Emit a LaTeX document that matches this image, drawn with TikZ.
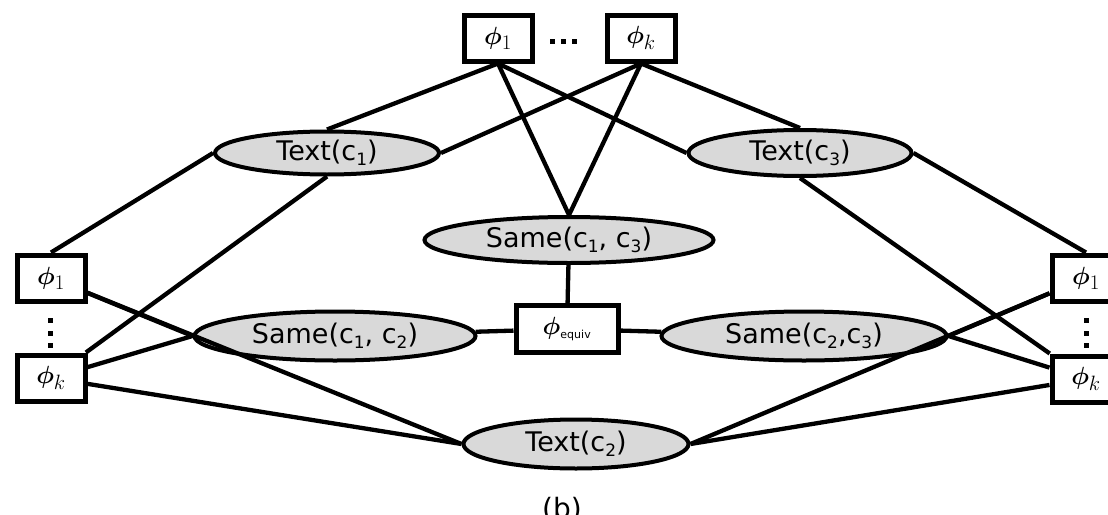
\documentclass[tikz,border=0pt]{standalone}
\usepackage{fontspec}
\setmainfont{DejaVu Sans}
\usepackage{amsmath,bm}
\usetikzlibrary{shapes.geometric}
\definecolor{varfill}{HTML}{D9D9D9}
\newcommand{\dsub}[1]{\raisebox{-0.35ex}{\fontsize{17}{17}\selectfont #1}}
\tikzset{
  var/.style={ellipse, draw, line width=4pt, fill=varfill, inner sep=0pt,
    font=\fontsize{27}{30}\selectfont},
  fac/.style={rectangle, draw, line width=5pt, fill=white, minimum width=68pt,
    minimum height=46pt, inner sep=0pt, font=\fontsize{29}{30}\selectfont},
  dot/.style={rectangle, fill=black, inner sep=0pt, minimum size=5pt},
  edge/.style={line width=4.3pt},
}
\begin{document}
\begin{tikzpicture}[x=1pt,y=-1pt]
\useasboundingbox (0,0) rectangle (1108,514);
% factor boxes
\node[fac] (t1) at (498,38) {$\bm{\phi}_1$};
\node[fac] (tk) at (641,38) {$\bm{\phi}_k$};
\node[dot] (td1) at (552,41) {};
\node[dot] (td2) at (563,41) {};
\node[dot] (td3) at (574,41) {};
\node[fac] (l1) at (51,278) {$\bm{\phi}_1$};
\node[fac] (lk) at (51,378) {$\bm{\phi}_k$};
\node[dot] (ld1) at (50,320) {};
\node[dot] (ld2) at (50,333) {};
\node[dot] (ld3) at (50,345) {};
\node[fac] (r1) at (1086,278) {$\bm{\phi}_1$};
\node[fac] (rk) at (1086,379) {$\bm{\phi}_k$};
\node[dot] (rd1) at (1086,320) {};
\node[dot] (rd2) at (1086,333) {};
\node[dot] (rd3) at (1086,345) {};
\node[fac, minimum width=102pt, minimum height=47pt] (eq) at (567,329) {$\bm{\phi}_{\mbox{\fontsize{11}{11}\selectfont equiv}}$};
% variable ellipses
\node[var, minimum width=224pt, minimum height=43pt] (x1) at (327,153) {Text(c\dsub{1})};
\node[var, minimum width=223pt, minimum height=46pt] (x3) at (800,153) {Text(c\dsub{3})};
\node[var, minimum width=289pt, minimum height=46pt] (s13) at (569,240) {Same(c\dsub{1}, c\dsub{3})};
\node[var, minimum width=281pt, minimum height=49pt] (s12) at (335,336) {Same(c\dsub{1}, c\dsub{2})};
\node[var, minimum width=285pt, minimum height=49pt] (s23) at (804,336) {Same(c\dsub{2},c\dsub{3})};
\node[var, minimum width=225pt, minimum height=49pt] (x2) at (576,444) {Text(c\dsub{2})};
\node[anchor=north, inner sep=0pt, font=\fontsize{28}{30}\selectfont] (cap) at (562,497) {(b)};
% connectors
\draw[edge] (t1.south) -- (x1.north);
\draw[edge] (t1.south) -- (s13.north);
\draw[edge] (t1.south) -- (x3.west);
\draw[edge] (tk.south) -- (x1.east);
\draw[edge] (tk.south) -- (s13.north);
\draw[edge] (tk.south) -- (x3.north);
\draw[edge] (s13) -- (eq);
\draw[edge] (eq) -- (s12);
\draw[edge] (eq) -- (s23);
\draw[edge] (l1.north) -- (x1.west);
\draw[edge] (lk) -- (x1.south);
\draw[edge] (l1) -- (s12.west);
\draw[edge] (lk) -- (s12.west);
\draw[edge] (l1) -- (x2.west);
\draw[edge] (lk) -- (x2.west);
\draw[edge] (r1.north) -- (x3.east);
\draw[edge] (rk) -- (x3.south);
\draw[edge] (r1) -- (s23.east);
\draw[edge] (rk) -- (s23.east);
\draw[edge] (r1) -- (x2.east);
\draw[edge] (rk) -- (x2.east);
\end{tikzpicture}
\end{document}
